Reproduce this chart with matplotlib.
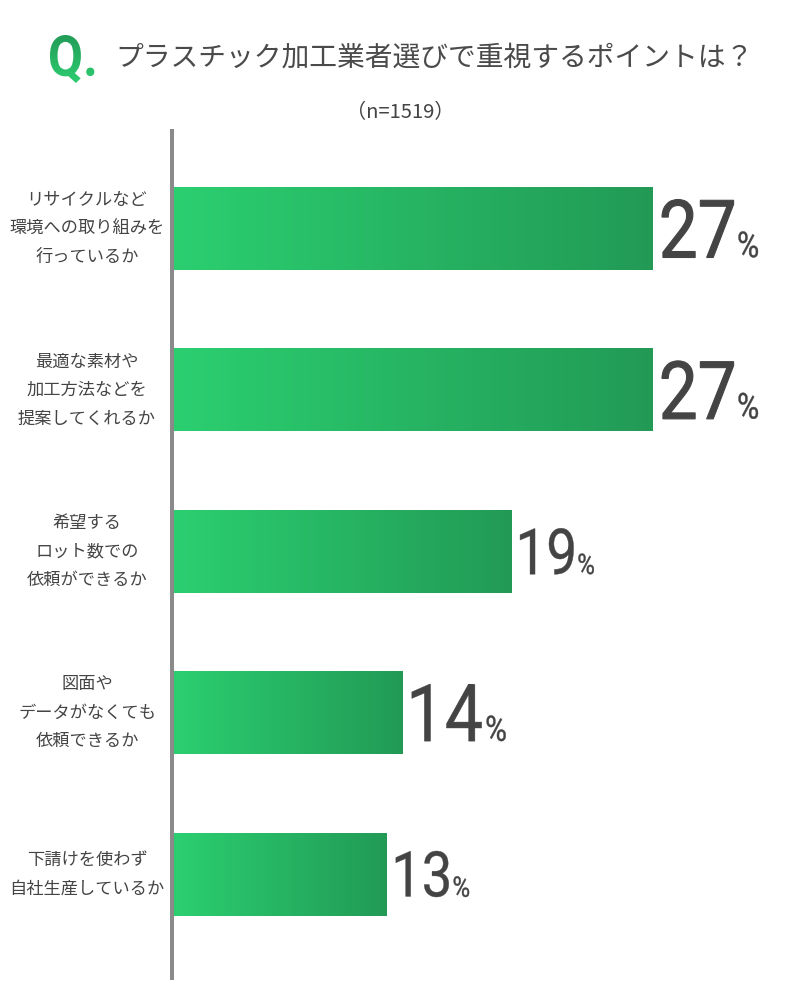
import matplotlib
matplotlib.use('Agg')
import matplotlib.pyplot as plt
import numpy as np
from matplotlib.colors import LinearSegmentedColormap
from matplotlib.font_manager import FontProperties
from matplotlib.textpath import TextPath
from matplotlib.patches import PathPatch
from matplotlib.transforms import Affine2D, blended_transform_factory

plt.rcParams['font.family'] = ['Noto Sans CJK JP', 'DejaVu Sans']

# data
categories = [
    'リサイクルなど\n環境への取り組みを\n行っているか',
    '最適な素材や\n加工方法などを\n提案してくれるか',
    '希望する\nロット数での\n依頼ができるか',
    '図面や\nデータがなくても\n依頼できるか',
    '下請けを使わず\n自社生産しているか',
]
bar_values = [27.0, 27.0, 19.0, 12.9, 12.0]
pct_labels = ['27', '27', '19', '14', '13']
title = 'プラスチック加工業者選びで重視するポイントは？'
sample_note = '（n=1519）'

TEXT = '#444444'
GREEN_L = '#2bcf70'
GREEN_D = '#229a56'

fig = plt.figure(figsize=(8, 10), dpi=100)

# overlay in pixel coordinates (y downwards) for title and number labels
ovl = fig.add_axes([0, 0, 1, 1])
ovl.axis('off')

ax = fig.add_axes([174 / 800, 22 / 1000, 600 / 800, 847 / 1000])
ax.patch.set_visible(False)
px_per_pct = 479 / 27
unit = 161.4
h = 83 / unit

cmap = LinearSegmentedColormap.from_list('bar', [GREEN_L, GREEN_D])
grad = np.linspace(0, 1, 256).reshape(1, -1)
for i, v in enumerate(bar_values):
    ax.imshow(grad, cmap=cmap, aspect='auto', interpolation='bilinear',
              extent=(0, v, i + h / 2, i - h / 2), zorder=2)

ax.set_xlim(0, 600 / px_per_pct)
ax.set_ylim(4 + (978 - 874) / unit, -(228.5 - 131) / unit)
for s in ['top', 'right', 'bottom']:
    ax.spines[s].set_visible(False)
ax.spines['left'].set_color('#8a8a8a')
ax.spines['left'].set_linewidth(2.9)
ax.spines['left'].set_position(('outward', 1.5))
ax.set_xticks([])
ax.set_yticks([])

lbl_tr = blended_transform_factory(fig.transFigure, ax.transData)
for i, c in enumerate(categories):
    ax.text(87 / 800, i, c, transform=lbl_tr, ha='center', va='center',
            fontsize=12.4, linespacing=1.75, color=TEXT)

ovl.set_xlim(0, 800)
ovl.set_ylim(1000, 0)


def path_patch(txt, prop, x0, y_top, ink_h, sx=1.0, color=TEXT, bottom=None, lw=0):
    tp = TextPath((0, 0), txt, size=100, prop=prop)
    ext = tp.get_extents()
    k = ink_h / ext.height
    if bottom is None:
        bottom = y_top + ink_h
    tr = Affine2D().translate(-ext.x0, -ext.y0).scale(k * sx, -k).translate(x0, bottom)
    p = PathPatch(tp, transform=tr + ovl.transData, facecolor=color,
                  edgecolor=color if lw else 'none', lw=lw)
    ovl.add_patch(p)
    return p, ext.width * k * sx


# percentage labels
num_font = FontProperties(family='Roboto', weight='normal')
num_px = [58, 58, 46, 57, 46]
inv = ovl.transData.inverted()
for i, (v, lab) in enumerate(zip(bar_values, pct_labels)):
    bx, by = inv.transform(ax.transData.transform((v, i)))
    hh = num_px[i]
    x0 = bx + 9
    _, w = path_patch(lab, num_font, x0, by - hh / 2, hh, sx=0.86,
                      lw=0.8 if hh > 57 else 0.3)
    ph = hh * 0.45
    path_patch('%', num_font, x0 + w + 5, by + hh / 2 - ph, ph, sx=0.85,
               bottom=by + hh / 2, lw=0.3)

# title "Q." with vertical gradient
q_font = FontProperties(family='Roboto', weight='bold')
qp, qw = path_patch('Q.', q_font, 50, 35, 48, sx=0.9)
qp.set_facecolor('none')
qcmap = LinearSegmentedColormap.from_list('q', [GREEN_D, '#2ecf72'])
qimg = ovl.imshow(np.linspace(0, 1, 256).reshape(-1, 1), cmap=qcmap,
                  aspect='auto', extent=(48, 50 + qw + 2, 85, 33))
qimg.set_clip_path(qp)

ovl.text(115, 58, title, fontsize=20, color='#4a4a4a', ha='left', va='center')
ovl.text(400, 113, sample_note, fontsize=14.5, color=TEXT,
         ha='center', va='center')

ovl.set_xlim(0, 800)
ovl.set_ylim(1000, 0)

fig.savefig('out.png', dpi=100)
